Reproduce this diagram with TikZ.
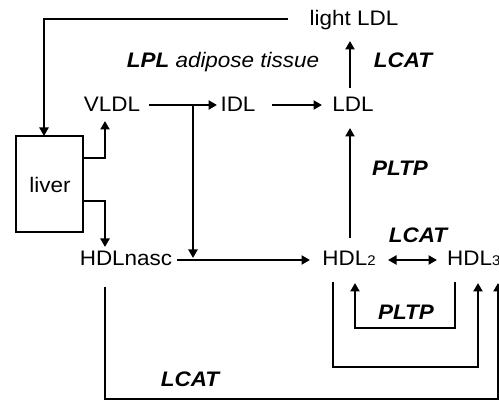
\documentclass[tikz,border=0pt]{standalone}
\usepackage{fontspec}
\setmainfont{Liberation Sans}[FakeStretch=1.07]
\usetikzlibrary{arrows.meta}
\begin{document}
\begin{tikzpicture}[x=1pt,y=-1pt,
  lbl/.style={inner sep=0pt,anchor=base,font=\fontsize{21}{24}\selectfont},
  enz/.style={lbl,font=\fontsize{21}{24}\selectfont\bfseries\itshape},
  con/.style={line width=2.2pt,-{Triangle[length=8.5pt,width=9pt]}},
  dual/.style={line width=2.2pt,{Triangle[length=8.5pt,width=9pt]}-{Triangle[length=8.5pt,width=9pt]}}]
\useasboundingbox (0,0) rectangle (499,401);
% nodes
\node[draw,line width=2.5pt,minimum width=67pt,minimum height=96pt,inner sep=0pt] (liverbox) at (49.5,184) {};
\node[lbl] (liver) at (50,193) {liver};
\node[lbl] (light) at (354,26) {light LDL};
\node[lbl] (vldl) at (112,112) {VLDL};
\node[lbl] (idl) at (238,112) {IDL};
\node[lbl] (ldl) at (353,112) {LDL};
\node[lbl] (hdln) at (126,266) {HDLnasc};
\node[lbl] (hdl2) at (349,266) {HDL{\fontsize{14}{16}\selectfont 2}};
\node[lbl,anchor=base west] (hdl3) at (447,266) {HDL{\fontsize{14}{16}\selectfont 3}};
\node[lbl] (lpl) at (223,68) {\textbf{\textit{LPL}} \textit{adipose tissue}};
\node[enz] (lcat1) at (403,68) {LCAT};
\node[enz] (pltp1) at (400,176) {PLTP};
\node[enz] (lcat2) at (418,243) {LCAT};
\node[enz] (pltp2) at (406,320) {PLTP};
\node[enz] (lcat3) at (190,387) {LCAT};
% coordinates
\coordinate (a1) at (288,19);
\coordinate (a2) at (44,19);
\coordinate (a3) at (44,136);
\coordinate (b1) at (83,158);
\coordinate (b2) at (105,158);
\coordinate (b3) at (105,121);
\coordinate (c1) at (83,201);
\coordinate (c2) at (105,201);
\coordinate (c3) at (105,247);
\coordinate (d1) at (149,105);
\coordinate (d2) at (217,105);
\coordinate (e1) at (193,105);
\coordinate (e2) at (193,258);
\coordinate (f1) at (272,105);
\coordinate (f2) at (322,105);
\coordinate (g1) at (350,88);
\coordinate (g2) at (350,41);
\coordinate (h1) at (350,238);
\coordinate (h2) at (350,128);
\coordinate (i1) at (177,260);
\coordinate (i2) at (310,260);
\coordinate (j1) at (388,260);
\coordinate (j2) at (437,260);
\coordinate (k1) at (455,282);
\coordinate (k2) at (455,328);
\coordinate (k3) at (355,328);
\coordinate (k4) at (355,283);
\coordinate (l1) at (333,282);
\coordinate (l2) at (333,367);
\coordinate (l3) at (478,367);
\coordinate (l4) at (478,283);
\coordinate (m1) at (105,287);
\coordinate (m2) at (105,399);
\coordinate (m3) at (498,399);
\coordinate (m4) at (498,283);
% connectors
\draw[con] (a1) -- (a2) -- (a3);
\draw[con] (b1) -- (b2) -- (b3);
\draw[con] (c1) -- (c2) -- (c3);
\draw[con] (d1) -- (d2);
\draw[con] (e1) -- (e2);
\draw[con] (f1) -- (f2);
\draw[con] (g1) -- (g2);
\draw[con] (h1) -- (h2);
\draw[con] (i1) -- (i2);
\draw[dual] (j1) -- (j2);
\draw[con] (k1) -- (k2) -- (k3) -- (k4);
\draw[con] (l1) -- (l2) -- (l3) -- (l4);
\draw[con] (m1) -- (m2) -- (m3) -- (m4);
\end{tikzpicture}
\end{document}
